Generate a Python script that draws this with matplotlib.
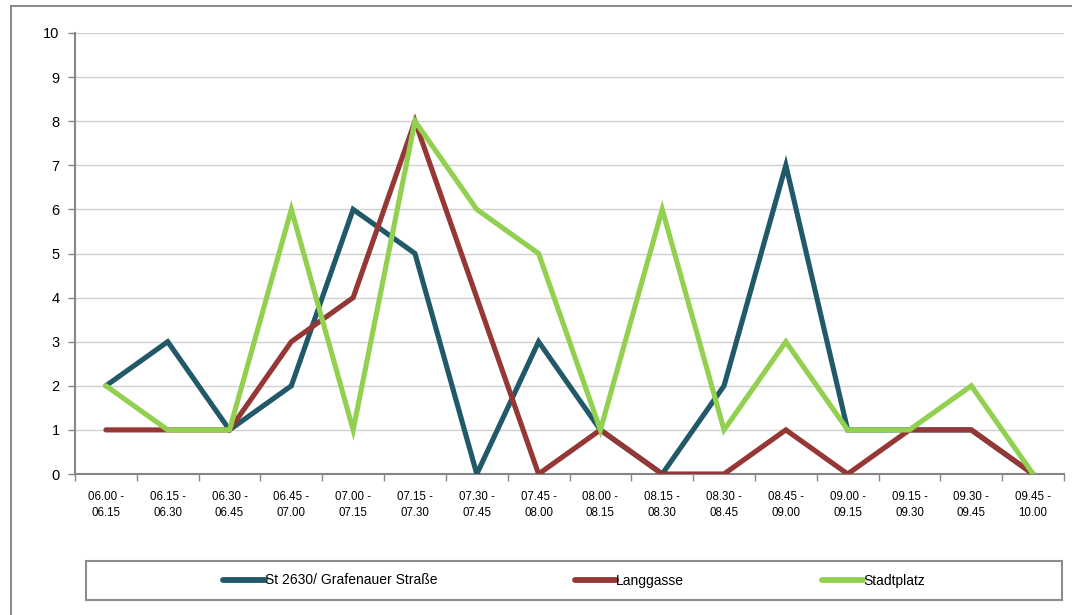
import numpy as np
import matplotlib
matplotlib.use('Agg')
import matplotlib.pyplot as plt
from matplotlib.patches import Rectangle

plt.rcParams['font.family'] = ['Liberation Sans', 'DejaVu Sans']

# Time slots (two-line labels)
slots = ['06.00 -\n06.15', '06.15 -\n06.30', '06.30 -\n06.45', '06.45 -\n07.00',
         '07.00 -\n07.15', '07.15 -\n07.30', '07.30 -\n07.45', '07.45 -\n08.00',
         '08.00 -\n08.15', '08.15 -\n08.30', '08.30 -\n08.45', '08.45 -\n09.00',
         '09.00 -\n09.15', '09.15 -\n09.30', '09.30 -\n09.45', '09.45 -\n10.00']

# Counts per location
st2630 = [2, 3, 1, 2, 6, 5, 0, 3, 1, 0, 2, 7, 1, 1, 1, 0]
langgasse = [1, 1, 1, 3, 4, 8, 4, 0, 1, 0, 0, 1, 0, 1, 1, 0]
stadtplatz = [2, 1, 1, 6, 1, 8, 6, 5, 1, 6, 1, 3, 1, 1, 2, 0]

series_names = ['St 2630/ Grafenauer Straße', 'Langgasse', 'Stadtplatz']
colors = ['#215968', '#953735', '#92D050']

W, H = 1072, 615
fig = plt.figure(figsize=(W / 100, H / 100), dpi=100)

# Outer chart border (runs off the right and bottom edge)
fig.patches.append(Rectangle((11 / W, -0.05), 1.1, 1 - 6 / H + 0.05,
                             transform=fig.transFigure, fill=False,
                             edgecolor='#8c8c8c', linewidth=1.5))

ax = fig.add_axes([75 / W, 1 - 474 / H, (1064 - 75) / W, (474 - 33) / H])

x = np.arange(len(slots))
lines = []
for vals, name, c in zip([st2630, langgasse, stadtplatz], series_names, colors):
    ln, = ax.plot(x, vals, color=c, linewidth=3.7, solid_capstyle='round',
                  solid_joinstyle='miter', label=name, zorder=3)
    lines.append(ln)

ax.set_xlim(-0.5, len(slots) - 0.5)
ax.set_ylim(0, 10)
ax.set_yticks(range(0, 11))
ax.yaxis.grid(True, color='#d0d0d0', linewidth=1)
ax.set_axisbelow(True)

ax.set_xticks(x)
ax.set_xticklabels(slots, fontsize=8.3, linespacing=1.45)
ax.set_xticks(np.arange(-0.5, len(slots)), minor=True)
ax.tick_params(axis='x', which='major', length=0, pad=12)
ax.tick_params(axis='x', which='minor', length=5, color='#868686', width=1)
ax.tick_params(axis='y', length=5, color='#868686', width=1, labelsize=10.5, pad=6)

for s in ['top', 'right']:
    ax.spines[s].set_visible(False)
for s in ['left', 'bottom']:
    ax.spines[s].set_color('#868686')
    ax.spines[s].set_linewidth(1.5)

# Legend box
fig.patches.append(Rectangle((86 / W, 1 - 600 / H), (1062 - 86) / W, 39 / H,
                             transform=fig.transFigure, fill=False,
                             edgecolor='#8c8c8c', linewidth=1.5))
leg = fig.legend(handles=lines, loc='center', ncol=3,
                 bbox_to_anchor=((86 + 1062) / 2 / W, 1 - 580.5 / H),
                 frameon=False, fontsize=10, handlelength=3.0,
                 handletextpad=0.0, columnspacing=9.9)
for h in leg.get_lines():
    h.set_linewidth(4.2)
    h.set_solid_capstyle('round')

fig.savefig('out.png', dpi=100)
